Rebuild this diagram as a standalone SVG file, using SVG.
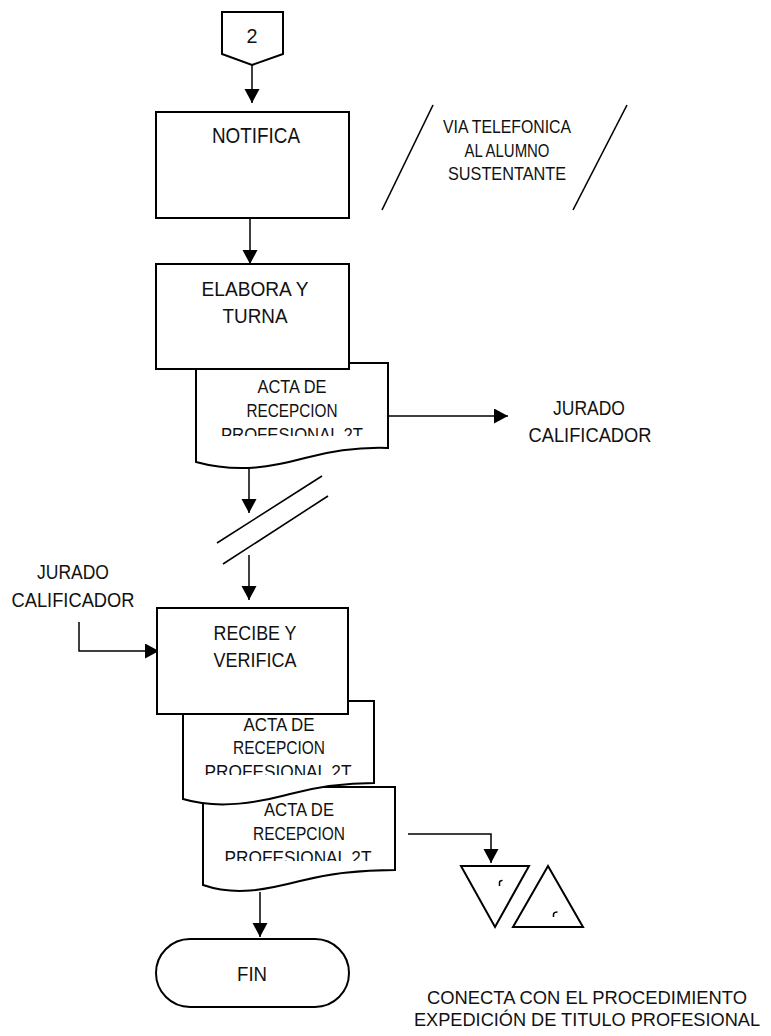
<svg xmlns="http://www.w3.org/2000/svg" width="771" height="1036" viewBox="0 0 771 1036">
  <style>
    .shape { fill: #ffffff; stroke: #000000; stroke-width: 2; }
    .line { fill: none; stroke: #000000; stroke-width: 1.5; }
    .arrow { fill: none; stroke: #000000; stroke-width: 1.5; marker-end: url(#head); }
    .slash { fill: none; stroke: #000000; stroke-width: 1.6; }
    text { font-family: "Liberation Sans", Arial, sans-serif; fill: #111111; text-anchor: middle; }
    .xl { font-size: 22px; }
    .lg { font-size: 21px; }
    .md { font-size: 19px; }
    .sm { font-size: 18px; }
  </style>
  <defs>
    <marker id="head" markerUnits="userSpaceOnUse" markerWidth="16" markerHeight="16" refX="14" refY="7.5" orient="auto">
      <path d="M0,0 L14,7.5 L0,15 Z" fill="#000000"/>
    </marker>
    <clipPath id="clip-doc1"><rect x="196" y="363" width="192" height="73"/></clipPath>
    <clipPath id="clip-doc2"><rect x="183" y="701" width="191" height="74"/></clipPath>
    <clipPath id="clip-doc3"><rect x="203" y="787" width="192" height="74"/></clipPath>
  </defs>

  <!-- connectors -->
  <g id="connectors">
    <path class="arrow" d="M252,65 L252,103"/>
    <path class="arrow" d="M250,218 L250,264"/>
    <path class="arrow" d="M388,416 L508,416"/>
    <path class="arrow" d="M249,468 L249,513"/>
    <path class="arrow" d="M249,555 L249,600"/>
    <path class="arrow" d="M79,622 L79,651 L159,651"/>
    <path class="arrow" d="M408,834 L491,834 L491,863"/>
    <path class="arrow" d="M260,892 L260,937"/>
  </g>

  <!-- off-page connector 2 -->
  <g id="start-connector">
    <path class="shape" d="M222,12 L283,12 L283,54 L252,65 L222,54 Z"/>
    <text class="lg" x="252" y="43" textLength="11" lengthAdjust="spacingAndGlyphs">2</text>
  </g>

  <!-- NOTIFICA process -->
  <g id="notifica">
    <rect class="shape" x="156" y="112" width="193" height="106"/>
    <text class="xl" x="256" y="143" textLength="88" lengthAdjust="spacingAndGlyphs">NOTIFICA</text>
  </g>

  <!-- telephone annotation -->
  <g id="via-telefonica">
    <line class="slash" x1="433" y1="105" x2="382" y2="210"/>
    <line class="slash" x1="627" y1="105" x2="573" y2="210"/>
    <text class="md" x="507" y="133" textLength="128" lengthAdjust="spacingAndGlyphs">VIA TELEFONICA</text>
    <text class="md" x="507" y="157" textLength="85" lengthAdjust="spacingAndGlyphs">AL ALUMNO</text>
    <text class="md" x="507" y="180" textLength="118" lengthAdjust="spacingAndGlyphs">SUSTENTANTE</text>
  </g>

  <!-- document behind ELABORA -->
  <g id="acta-1">
    <path class="shape" d="M196,363 L388,363 L388,448 C360,447 335,450 305,458 C275,466 240,474 196,462 Z"/>
    <g clip-path="url(#clip-doc1)">
      <text class="md" x="292" y="393" textLength="69" lengthAdjust="spacingAndGlyphs">ACTA DE</text>
      <text class="md" x="292" y="417" textLength="91" lengthAdjust="spacingAndGlyphs">RECEPCION</text>
      <text class="md" x="292" y="441" textLength="142" lengthAdjust="spacingAndGlyphs">PROFESIONAL  2T</text>
    </g>
  </g>

  <!-- ELABORA Y TURNA process -->
  <g id="elabora">
    <rect class="shape" x="156" y="264" width="193" height="105"/>
    <text class="lg" x="255" y="296" textLength="107" lengthAdjust="spacingAndGlyphs">ELABORA Y</text>
    <text class="lg" x="255" y="323" textLength="65" lengthAdjust="spacingAndGlyphs">TURNA</text>
  </g>

  <!-- recipient -->
  <g id="jurado-destino">
    <text class="lg" x="589" y="415" textLength="72" lengthAdjust="spacingAndGlyphs">JURADO</text>
    <text class="lg" x="590" y="442" textLength="123" lengthAdjust="spacingAndGlyphs">CALIFICADOR</text>
  </g>

  <!-- transfer mark -->
  <g id="traslado">
    <line class="slash" x1="217" y1="543" x2="322" y2="476"/>
    <line class="slash" x1="223" y1="564" x2="328" y2="496"/>
  </g>

  <!-- sender -->
  <g id="jurado-origen">
    <text class="lg" x="73" y="579" textLength="72" lengthAdjust="spacingAndGlyphs">JURADO</text>
    <text class="lg" x="73" y="607" textLength="123" lengthAdjust="spacingAndGlyphs">CALIFICADOR</text>
  </g>

  <!-- lowest document copy -->
  <g id="acta-3">
    <path class="shape" d="M203,787 L395,787 L395,870 C365,870 335,872 300,881 C265,890 235,896 203,885 Z"/>
    <g clip-path="url(#clip-doc3)">
      <text class="md" x="299" y="816" textLength="70" lengthAdjust="spacingAndGlyphs">ACTA DE</text>
      <text class="md" x="299" y="840" textLength="92" lengthAdjust="spacingAndGlyphs">RECEPCION</text>
      <text class="md" x="298" y="864" textLength="147" lengthAdjust="spacingAndGlyphs">PROFESIONAL  2T</text>
    </g>
  </g>

  <!-- middle document copy -->
  <g id="acta-2">
    <path class="shape" d="M183,701 L374,701 L374,783 C345,783 320,786 290,794 C260,802 220,810 183,799 Z"/>
    <g clip-path="url(#clip-doc2)">
      <text class="md" x="279" y="731" textLength="71" lengthAdjust="spacingAndGlyphs">ACTA DE</text>
      <text class="md" x="279" y="754" textLength="92" lengthAdjust="spacingAndGlyphs">RECEPCION</text>
      <text class="md" x="278" y="778" textLength="147" lengthAdjust="spacingAndGlyphs">PROFESIONAL  2T</text>
    </g>
  </g>

  <!-- RECIBE Y VERIFICA process -->
  <g id="recibe">
    <rect class="shape" x="157" y="608" width="191" height="106"/>
    <text class="lg" x="255" y="640" textLength="83" lengthAdjust="spacingAndGlyphs">RECIBE Y</text>
    <text class="lg" x="255" y="667" textLength="83" lengthAdjust="spacingAndGlyphs">VERIFICA</text>
  </g>

  <!-- archive triangles -->
  <g id="archivo">
    <path class="shape" d="M461,866 L529,866 L495,927 Z"/>
    <path class="shape" d="M513,927 L583,927 L548,866 Z"/>
    <path class="line" d="M499.5,886 L499.5,882.5 Q499.5,880.5 502.5,880.5"/>
    <path class="line" d="M553.5,917 L553.5,914 Q554,912 557.5,912"/>
  </g>

  <!-- end terminal -->
  <g id="fin">
    <rect class="shape" x="156" y="939" width="193" height="68" rx="34" ry="34"/>
    <text class="lg" x="252" y="981" textLength="30" lengthAdjust="spacingAndGlyphs">FIN</text>
  </g>

  <!-- closing note -->
  <g id="nota-conecta">
    <text class="sm" x="587" y="1004" textLength="320" lengthAdjust="spacingAndGlyphs">CONECTA CON EL PROCEDIMIENTO</text>
    <text class="sm" x="587" y="1026" textLength="346" lengthAdjust="spacingAndGlyphs">EXPEDICIÓN DE TITULO PROFESIONAL</text>
  </g>
</svg>
